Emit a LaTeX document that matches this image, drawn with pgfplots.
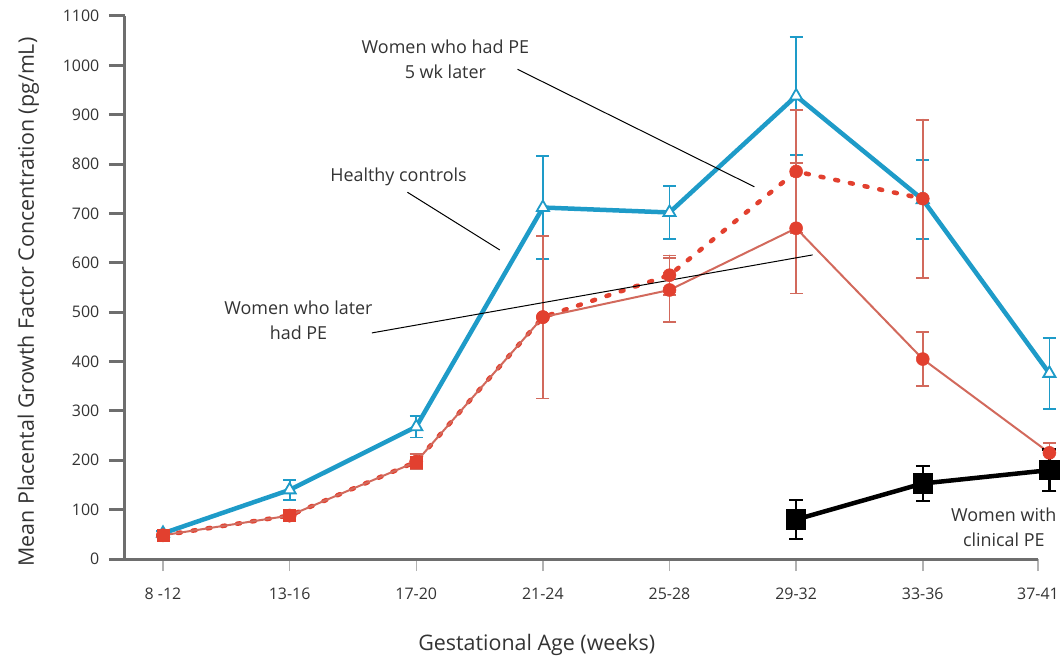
\documentclass[border=0pt]{standalone}
\usepackage{pgfplots}
\pgfplotsset{compat=1.18}
\usepackage{fontspec}
\setmainfont{Open Sans}
\definecolor{cblue}{HTML}{1E9BC8}
\definecolor{cred}{HTML}{E2402F}
\definecolor{csal}{HTML}{D2695C}
\definecolor{axgray}{HTML}{6E6E6E}
\definecolor{txt}{HTML}{333333}
\begin{document}
\begin{tikzpicture}
\begin{axis}[
  scale only axis, width=913bp, height=543bp,
  xmin=-0.3, xmax=6.91, ymin=0, ymax=1100,
  clip=false,
  axis x line*=bottom, axis y line*=left,
  axis line style={-, line width=3bp, color=axgray},
  xtick={0,1,2,3,4,5,6,6.91},
  xticklabels={8 -12,13-16,17-20,21-24,25-28,29-32,33-36,37-41},
  ytick={0,100,...,1100},
  tick align=outside,
  ytick style={line width=3bp, color=axgray, /pgfplots/major tick length=16bp},
  xtick style={line width=1.5bp, color=gray!60, /pgfplots/major tick length=12bp},
  /pgf/number format/1000 sep={},
  /pgf/number format/assume math mode=true,
  ticklabel style={font=\fontsize{16}{18}\selectfont, text=txt},
  yticklabel style={xshift=-18bp},
  xticklabel style={yshift=-21bp},
  ylabel={Mean Placental Growth Factor Concentration (pg/mL)},
  ylabel style={at={(axis description cs:-0.106,0.473)}, anchor=center, font=\fontsize{21.5}{24}\selectfont, text=txt},
  xlabel={Gestational Age (weeks)},
  xlabel style={at={(axis description cs:0.451,-0.158)}, anchor=center, font=\fontsize{21.5}{24}\selectfont, text=txt},
]
% Healthy controls
\addplot[cblue, line width=4.5bp, mark=triangle*, mark size=7bp,
  mark options={solid, fill=white, draw=cblue, line width=1.8bp},
  error bars/.cd, y dir=both, y explicit,
  error bar style={line width=1.8bp, cblue},
  error mark options={rotate=90, mark size=6.5bp, line width=1.8bp, cblue}]
  table[x=x, y=y, y error=e] {
x y e
0 52 4
1 140 20
2 268 22
3 712 105
4 702 53
5 938 120
6 728 80
7 376 72
};
% Women who had PE 5 wk later (dotted)
\addplot[cred, line width=4.5bp, line cap=round, dash pattern=on 3bp off 12bp, mark=*, mark size=6.5bp,
  mark options={solid, fill=cred, draw=cred, line width=0.5bp},
  error bars/.cd, y dir=both, y explicit,
  error bar style={line width=1.8bp, csal, solid},
  error mark options={rotate=90, mark size=6.5bp, line width=1.8bp, csal, solid}]
  table[x=x, y=y, y error=e] {
x y e
0 48 0
1 88 0
2 197 0
3 490 0
4 575 40
5 785 125
6 730 160
};
% Women who later had PE (solid thin)
\addplot[csal, line width=2bp, mark=*, mark size=6.5bp,
  mark options={solid, fill=cred, draw=cred, line width=0.5bp},
  error bars/.cd, y dir=both, y explicit,
  error bar style={line width=1.8bp, csal},
  error mark options={rotate=90, mark size=6.5bp, line width=1.8bp, csal}]
  table[x=x, y=y, y error=e] {
x y e
0 48 0
1 88 8
2 197 15
3 490 165
4 545 65
5 670 132
6 405 55
7 215 20
};
\addplot[only marks, mark=square*, mark size=6bp, cred] coordinates {(0,48) (1,88) (2,197)};
% Women with clinical PE
\addplot[black, line width=4.5bp, mark=square*, mark size=8bp,
  mark options={solid, fill=black},
  error bars/.cd, y dir=both, y explicit,
  error bar style={line width=2.2bp, black},
  error mark options={rotate=90, mark size=7bp, line width=2.2bp, black}]
  table[x=x, y=y, y error=e] {
x y e
5 80 40
6 153 35
7 180 42
};
% annotations
\draw[black, line width=1bp] (axis cs:2.80,992) -- (axis cs:4.67,754);
\draw[black, line width=1bp] (axis cs:1.93,743) -- (axis cs:2.66,626);
\draw[black, line width=1bp] (axis cs:1.65,458) -- (axis cs:5.13,616);
\node[align=center, text=txt, font=\fontsize{18}{25}\selectfont] at (axis cs:2.23,1012) {Women who had PE\\5 wk later};
\node[text=txt, font=\fontsize{18}{22}\selectfont] at (axis cs:1.86,774) {Healthy controls};
\node[align=center, text=txt, font=\fontsize{18}{25}\selectfont] at (axis cs:1.07,484) {Women who later\\had PE};
\node[align=center, text=txt, font=\fontsize{18}{25}\selectfont] at (axis cs:6.64,65) {Women with\\clinical PE};
\end{axis}
\pgfresetboundingbox
\path (current axis.south west) ++(-125bp,-100bp) rectangle ++(1062bp,659bp);
\end{tikzpicture}
\end{document}
